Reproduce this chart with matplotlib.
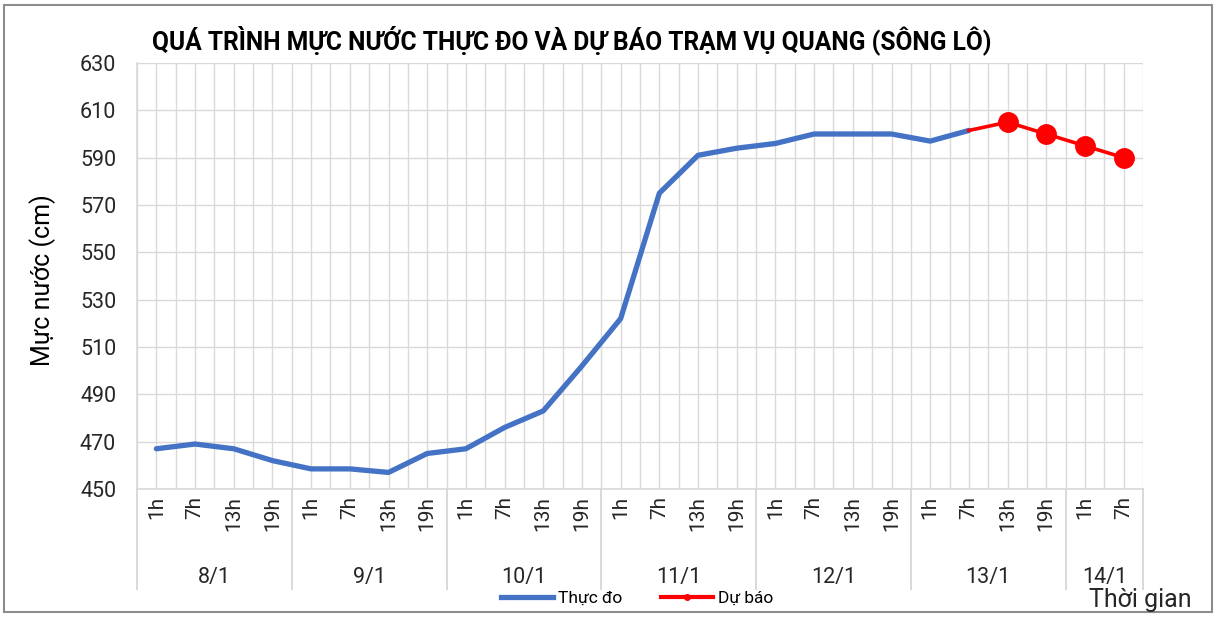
import matplotlib.pyplot as plt
from matplotlib.patches import Rectangle
from matplotlib.lines import Line2D
import matplotlib.transforms as mtransforms

plt.rcParams['font.family'] = ['Roboto', 'DejaVu Sans']

# data
days = ['8/1', '9/1', '10/1', '11/1', '12/1', '13/1', '14/1']
hours_per_day = [4, 4, 4, 4, 4, 4, 2]
hours = ['1h', '7h', '13h', '19h'] * 6 + ['1h', '7h']

observed = [467, 469, 467, 462, 458.5, 458.5, 457, 465,
            467, 476, 483, 502, 522, 575, 591, 594,
            596, 600, 600, 600, 597, 601.5]
forecast = [601.5, 605, 600, 595, 590]
forecast_start = len(observed) - 1

blue = '#4472C4'
red = '#FF0000'
grid = '#D9D9D9'
txt = '#262626'

fig = plt.figure(figsize=(12.14, 6.17), dpi=100)
ax = fig.add_axes([137 / 1214, 1 - 489 / 617, 1006 / 1214, 426 / 617])

x_obs = list(range(len(observed)))
x_fc = list(range(forecast_start, forecast_start + len(forecast)))

ax.plot(x_obs, observed, color=blue, lw=3.8, solid_capstyle='round', zorder=3)
ax.plot(x_fc, forecast, color=red, lw=2.6, zorder=4)
ax.plot(x_fc[1:], forecast[1:], 'o', color=red, ms=14, zorder=5)

n = len(hours)
ax.set_xlim(-0.5, n - 0.5)
ax.set_ylim(450, 630)
ax.set_yticks(range(450, 631, 20))
ax.set_xticks(range(n))
ax.set_xticklabels(hours, rotation=90)
ax.set_xticks([i - 0.5 for i in range(n + 1)], minor=True)
ax.grid(True, which='both', axis='x', color=grid, lw=1)
ax.grid(True, which='major', axis='y', color=grid, lw=1)
ax.set_axisbelow(True)
ax.tick_params(axis='both', which='both', length=0, colors=txt)
ax.tick_params(axis='x', pad=5, labelsize=15)
ax.tick_params(axis='y', pad=15, labelsize=15.5)
for s in ['top', 'right']:
    ax.spines[s].set_visible(False)
for s in ['left', 'bottom']:
    ax.spines[s].set_color(grid)
    ax.spines[s].set_linewidth(1.2)

# day groups under the hour labels
trans = mtransforms.blended_transform_factory(ax.transData, ax.transAxes)
start = 0
bounds = [-0.5]
for day, cnt in zip(days, hours_per_day):
    mid = start + (cnt - 1) / 2
    ax.text(mid, -0.207, day, transform=trans, ha='center', va='center',
            fontsize=15.5, color=txt)
    start += cnt
    bounds.append(start - 0.5)
for b in bounds:
    ax.add_line(Line2D([b, b], [0, -0.235], transform=trans, color=grid,
                       lw=1.4, clip_on=False))

ax.set_ylabel('Mực nước (cm)', fontsize=18, color='#000000')
ax.yaxis.set_label_coords(-0.081, 0.49)

fig.text(0.471, 0.935, 'QUÁ TRÌNH MỰC NƯỚC THỰC ĐO VÀ DỰ BÁO TRẠM VỤ QUANG (SÔNG LÔ)',
         ha='center', va='center', fontsize=17.7, fontweight='bold', color='#000000')
fig.text(1192 / 1214, 1 - 600 / 617, 'Thời gian', ha='right', va='center',
         fontsize=18, color=txt)

handles = [Line2D([], [], color=blue, lw=3.8),
           Line2D([], [], color=red, lw=3, marker='o', ms=4)]
fig.legend(handles, ['Thực đo', 'Dự báo'], loc='center',
           bbox_to_anchor=(637 / 1214, 1 - 598 / 617), ncol=2, frameon=False,
           fontsize=12.5, handlelength=3.0, handletextpad=0.3, columnspacing=2.2)

fig.add_artist(Rectangle((4 / 1214, 1 - 612 / 617), 1208 / 1214, 607 / 617,
                         transform=fig.transFigure, fill=False,
                         edgecolor='#8C8C8C', lw=1.5))

fig.savefig('out.png', dpi=100)
